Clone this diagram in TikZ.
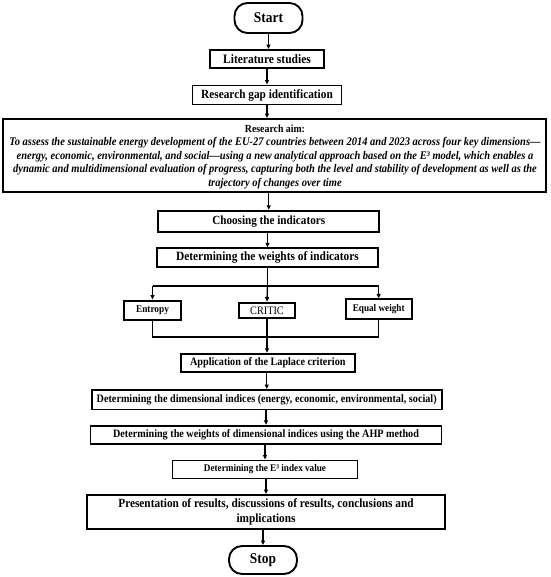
\documentclass[tikz,border=0pt]{standalone}
\usepackage{fontspec}
\setmainfont{Liberation Serif}[FakeStretch=0.9]
\usetikzlibrary{arrows.meta}
\begin{document}
\begin{tikzpicture}[x=1pt,y=-1pt,
  box/.style={draw, line width=1.9pt, inner sep=0pt, align=center},
  term/.style={box, rounded corners=13pt},
  conn/.style={line width=1.4pt, -{Triangle[length=4.5pt,width=4pt]}},
  link/.style={line width=1.4pt}]
\useasboundingbox (0,0) rectangle (550,577);

\node[term, minimum width=68pt, minimum height=30pt, font=\bfseries\fontsize{14.9}{17}\selectfont] (start) at (268.5,18) {Start};
\node[box, minimum width=114pt, minimum height=18pt, font=\bfseries\fontsize{12.8}{15}\selectfont] (lit) at (267,59) {Literature studies};
\node[box, minimum width=149pt, minimum height=19pt, font=\bfseries\fontsize{12.55}{15}\selectfont] (gap) at (267,95) {Research gap identification};
\node[box, minimum width=543pt, minimum height=73pt] (aim) at (274.7,155.5) {};
\node[inner sep=0pt, align=center, font=\fontsize{11.65}{13.5}\selectfont] (aimtext) at (275,156.8)
  {\bfseries\fontsize{10.9}{13.5}\selectfont Research aim:\\
   \bfseries\itshape To assess the sustainable energy development of the EU-27 countries between 2014 and 2023 across four key dimensions—\\
   \bfseries\itshape energy, economic, environmental, and social—using a new analytical approach based on the E³ model, which enables a\\
   \bfseries\itshape dynamic and multidimensional evaluation of progress, capturing both the level and stability of development as well as the\\
   \bfseries\itshape trajectory of changes over time};
\node[box, minimum width=221pt, minimum height=21pt, font=\bfseries\fontsize{12.4}{15}\selectfont] (choose) at (268.7,221.2) {Choosing the indicators};
\node[box, minimum width=220.5pt, minimum height=19pt, font=\bfseries\fontsize{12.65}{15}\selectfont] (weights) at (267.5,257.8) {Determining the weights of indicators};
\node[box, minimum width=57pt, minimum height=19.5pt, font=\bfseries\fontsize{10.3}{12}\selectfont] (entropy) at (152.5,310.3) {Entropy};
\node[box, minimum width=56pt, minimum height=15.7pt, font=\fontsize{11.4}{13}\selectfont] (critic) at (267,310.5) {CRITIC};
\node[box, minimum width=66pt, minimum height=20pt, font=\bfseries\fontsize{10.2}{12}\selectfont] (equal) at (378.7,309.3) {Equal weight};
\node[box, minimum width=174pt, minimum height=18pt, font=\bfseries\fontsize{11.3}{13}\selectfont] (laplace) at (267.8,362.8) {Application of the Laplace criterion};
\node[box, minimum width=350pt, minimum height=19.5pt, font=\bfseries\fontsize{11.3}{13}\selectfont] (dim) at (266.7,399.7) {Determining the dimensional indices (energy, economic, environmental, social)};
\node[box, minimum width=351pt, minimum height=18.5pt, font=\bfseries\fontsize{11.3}{13}\selectfont] (ahp) at (266,435) {Determining the weights of dimensional indices using the AHP method};
\node[box, minimum width=185pt, minimum height=18pt, font=\bfseries\fontsize{10.2}{12}\selectfont] (e3) at (265,469.5) {Determining the E³ index value};
\node[box, minimum width=358pt, minimum height=34pt, font=\bfseries\fontsize{12.55}{14.5}\selectfont] (pres) at (266,512) {Presentation of results, discussions of results, conclusions and\\ implications};
\node[term, minimum width=68pt, minimum height=28pt, font=\bfseries\fontsize{14.9}{17}\selectfont] (stop) at (263,560) {Stop};

\coordinate (split) at (267.5,286);
\coordinate (splitL) at (152.5,286);
\coordinate (splitR) at (378.7,286);
\coordinate (joinL) at (152.5,337);
\coordinate (joinR) at (378.7,337);
\coordinate (join) at (267,337);

\draw[conn] (start.south) -- (start.south |- lit.north);
\draw[conn] (lit.south) -- (lit.south |- gap.north);
\draw[conn] (gap.south) -- (gap.south |- aim.north);
\draw[conn] (aim.south -| choose.north) -- (choose.north);
\draw[conn] (choose.south -| weights.north) -- (weights.north);
\draw[link] (weights.south) -- (split);
\draw[link] (splitL) -- (splitR);
\draw[conn] (splitL) -- (entropy.north);
\draw[conn] (split) -- (critic.north);
\draw[conn] (splitR) -- (equal.north);
\draw[link] (entropy.south) -- (joinL) -- (joinR) -- (equal.south);
\draw[link] (critic.south) -- (join);
\draw[conn] (join) -- (join |- laplace.north);
\draw[conn] (laplace.south -| dim.north) -- (dim.north);
\draw[conn] (dim.south -| ahp.north) -- (ahp.north);
\draw[conn] (ahp.south -| e3.north) -- (e3.north);
\draw[conn] (e3.south -| pres.north) -- (pres.north);
\draw[conn] (pres.south -| stop.north) -- (stop.north);
\end{tikzpicture}
\end{document}
